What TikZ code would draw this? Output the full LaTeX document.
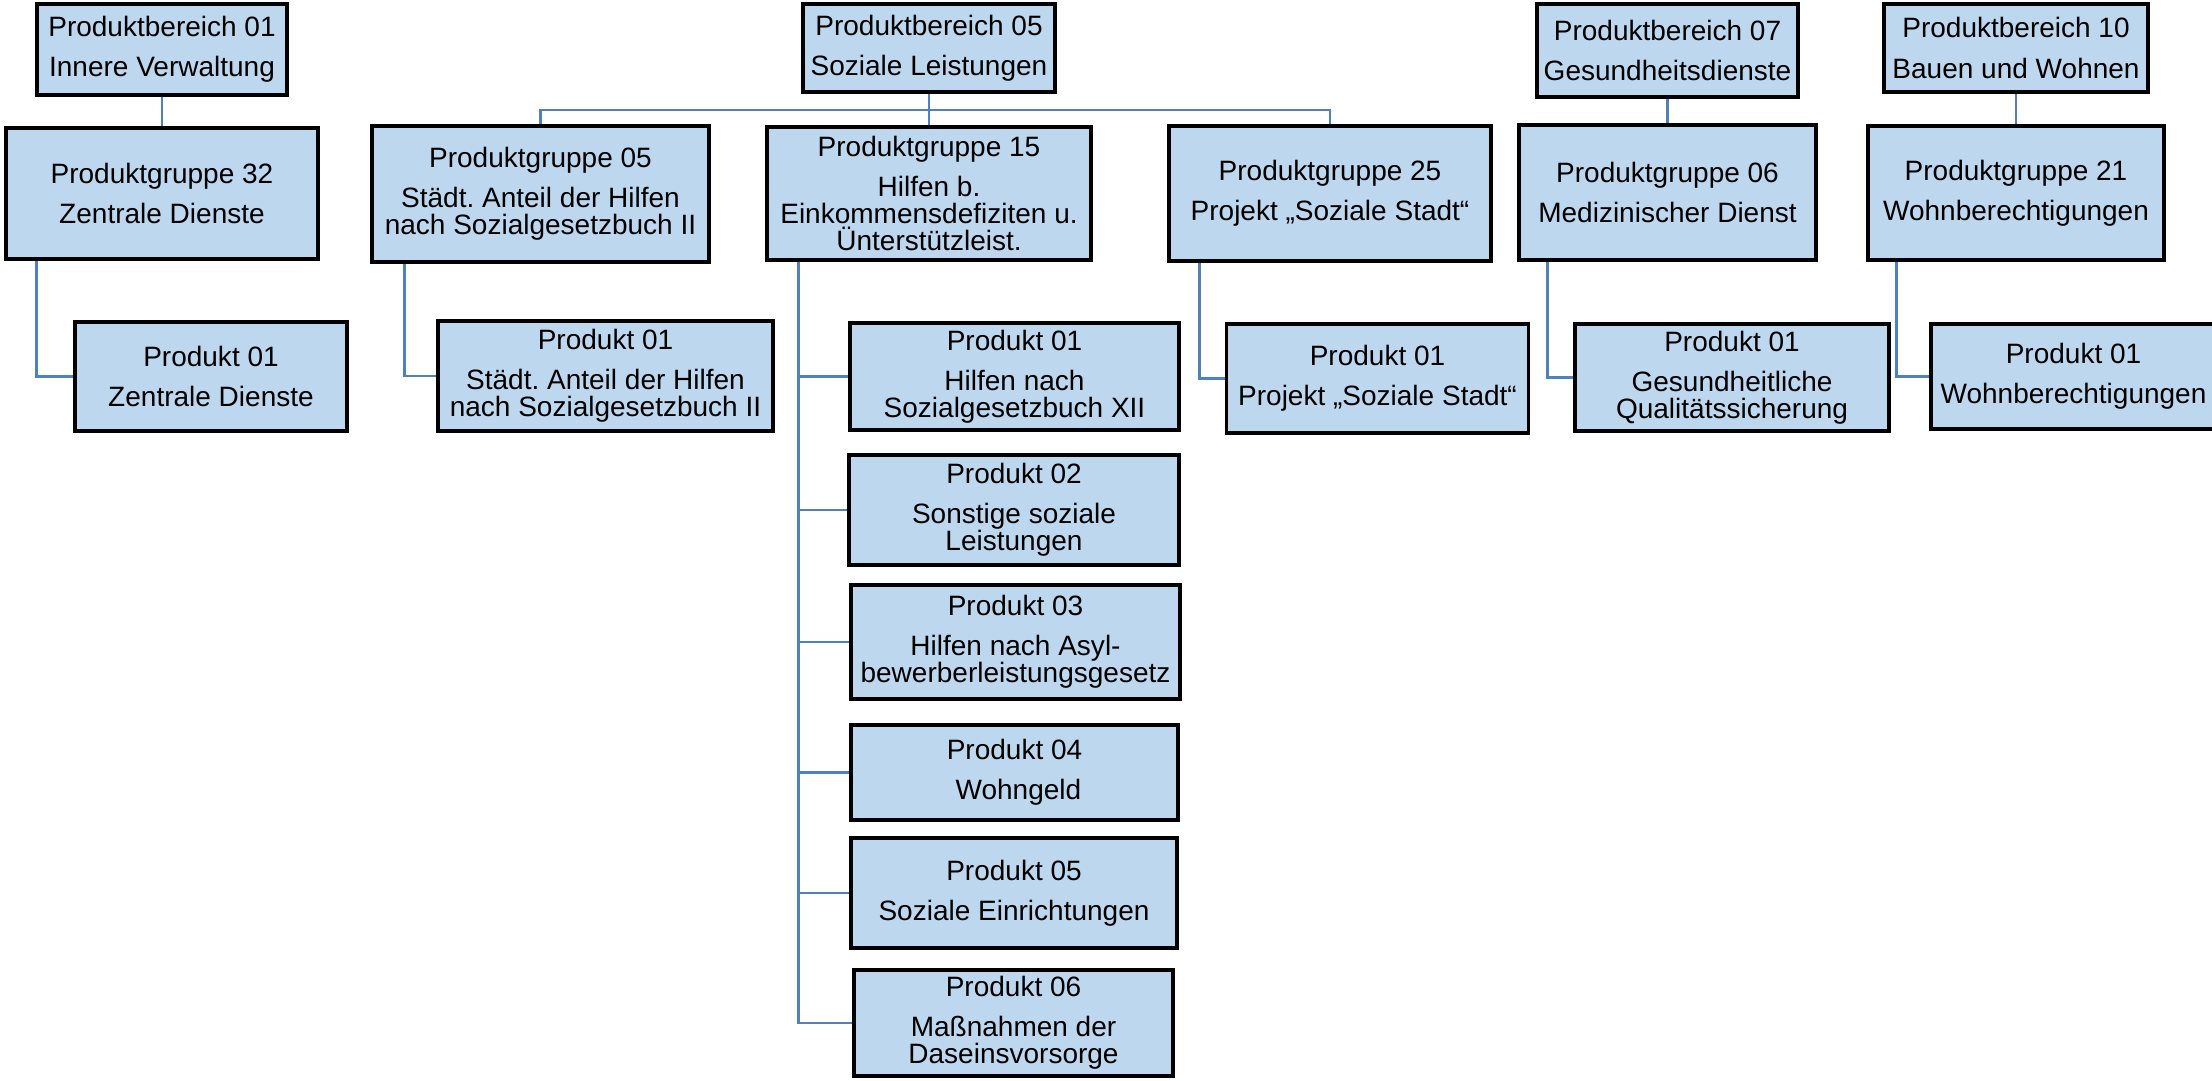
\documentclass[tikz,border=0pt]{standalone}
\usepackage{fontspec}
\setmainfont{Liberation Sans}
\frenchspacing
\definecolor{boxblue}{RGB}{189,215,238}
\definecolor{linkblue}{RGB}{79,129,189}
\tikzset{
    box/.style={draw, fill=boxblue, line width=0.9pt, inner sep=0pt, align=center, font=\fontsize{7.97}{7.7}\selectfont},
    link/.style={draw=linkblue, line width=0.8pt},
}
\begin{document}
\begin{tikzpicture}
            \useasboundingbox (0,0) rectangle (22.12,-10.80);

            \node(pb01) at (1.62,-0.495) [box, minimum width=2.50cm, minimum height=0.91cm] {Produktbereich 01\\[3.7pt]Innere Verwaltung};
            \node(pg32) at (1.62,-1.935) [box, minimum width=3.12cm, minimum height=1.31cm] {Produktgruppe 32\\[3.7pt]Zentrale Dienste};
            \node(p3201) at (2.11,-3.765) [box, minimum width=2.72cm, minimum height=1.09cm] {Produkt 01\\[3.7pt]Zentrale Dienste};

            \node(pb05) at (9.29,-0.48) [box, minimum width=2.52cm, minimum height=0.88cm] {Produktbereich 05\\[3.7pt]Soziale Leistungen};
            \node(pg05) at (5.405,-1.94) [box, minimum width=3.37cm, minimum height=1.36cm] {Produktgruppe 05\\[3.7pt]Städt. Anteil der Hilfen\\nach Sozialgesetzbuch II};
            \node(p0501) at (6.055,-3.76) [box, minimum width=3.35cm, minimum height=1.10cm] {Produkt 01\\[3.7pt]Städt. Anteil der Hilfen\\nach Sozialgesetzbuch II};
            \node(pg15) at (9.29,-1.935) [box, minimum width=3.24cm, minimum height=1.33cm] {Produktgruppe 15\\[3.7pt]Hilfen b.\\Einkommensdefiziten u.\\Ünterstützleist.};
            \node(p1501) at (10.145,-3.765) [box, minimum width=3.29cm, minimum height=1.07cm] {Produkt 01\\[3.7pt]Hilfen nach\\Sozialgesetzbuch XII};
            \node(p1502) at (10.14,-5.10) [box, minimum width=3.30cm, minimum height=1.10cm] {Produkt 02\\[3.7pt]Sonstige soziale\\Leistungen};
            \node(p1503) at (10.155,-6.42) [box, minimum width=3.29cm, minimum height=1.14cm] {Produkt 03\\[3.7pt]Hilfen nach Asyl-\\bewerberleistungsgesetz};
            \node(p1504) at (10.145,-7.725) [box, minimum width=3.27cm, minimum height=0.95cm] {Produkt 04\\[3.7pt]\ Wohngeld};
            \node(p1505) at (10.14,-8.93) [box, minimum width=3.26cm, minimum height=1.10cm] {Produkt 05\\[3.7pt]Soziale Einrichtungen};
            \node(p1506) at (10.135,-10.23) [box, minimum width=3.19cm, minimum height=1.06cm] {Produkt 06\\[3.7pt]Maßnahmen der\\Daseinsvorsorge};
            \node(pg25) at (13.30,-1.935) [box, minimum width=3.22cm, minimum height=1.35cm] {Produktgruppe 25\\[3.7pt]Projekt „Soziale Stadt“};
            \node(p2501) at (13.775,-3.785) [box, minimum width=3.02cm, minimum height=1.09cm] {Produkt 01\\[3.7pt]Projekt „Soziale Stadt“};

            \node(pb07) at (16.675,-0.505) [box, minimum width=2.61cm, minimum height=0.93cm] {Produktbereich 07\\[3.7pt]Gesundheitsdienste};
            \node(pg06) at (16.675,-1.925) [box, minimum width=2.97cm, minimum height=1.35cm] {Produktgruppe 06\\[3.7pt]Medizinischer Dienst};
            \node(p0601) at (17.32,-3.775) [box, minimum width=3.14cm, minimum height=1.07cm] {Produkt 01\\[3.7pt]Gesundheitliche\\Qualitätssicherung};

            \node(pb10) at (20.16,-0.48) [box, minimum width=2.64cm, minimum height=0.88cm] {Produktbereich 10\\[3.7pt]Bauen und Wohnen};
            \node(pg21) at (20.16,-1.93) [box, minimum width=2.96cm, minimum height=1.34cm] {Produktgruppe 21\\[3.7pt]Wohnberechtigungen};
            \node(p2101) at (20.735,-3.765) [box, minimum width=2.85cm, minimum height=1.05cm] {Produkt 01\\[3.7pt]Wohnberechtigungen};

            \coordinate(bus) at (9.29,-1.10);

            \draw[link] (pb01.south) -- (pg32.north);
            \draw[link] ([xshift=0.32cm]pg32.south west) |- (p3201.west);
            \draw[link] (pb05.south) -- (pg15.north);
            \draw[link] (pg05.north) |- (bus) -| (pg25.north);
            \draw[link] ([xshift=0.34cm]pg05.south west) |- (p0501.west);
            \foreach \p in {p1501,p1502,p1503,p1504,p1505,p1506}
                \draw[link] ([xshift=0.33cm]pg15.south west) |- (\p.west);
            \draw[link] ([xshift=0.32cm]pg25.south west) |- (p2501.west);
            \draw[link] (pb07.south) -- (pg06.north);
            \draw[link] ([xshift=0.30cm]pg06.south west) |- (p0601.west);
            \draw[link] (pb10.south) -- (pg21.north);
            \draw[link] ([xshift=0.30cm]pg21.south west) |- (p2101.west);
        \end{tikzpicture}
\end{document}
